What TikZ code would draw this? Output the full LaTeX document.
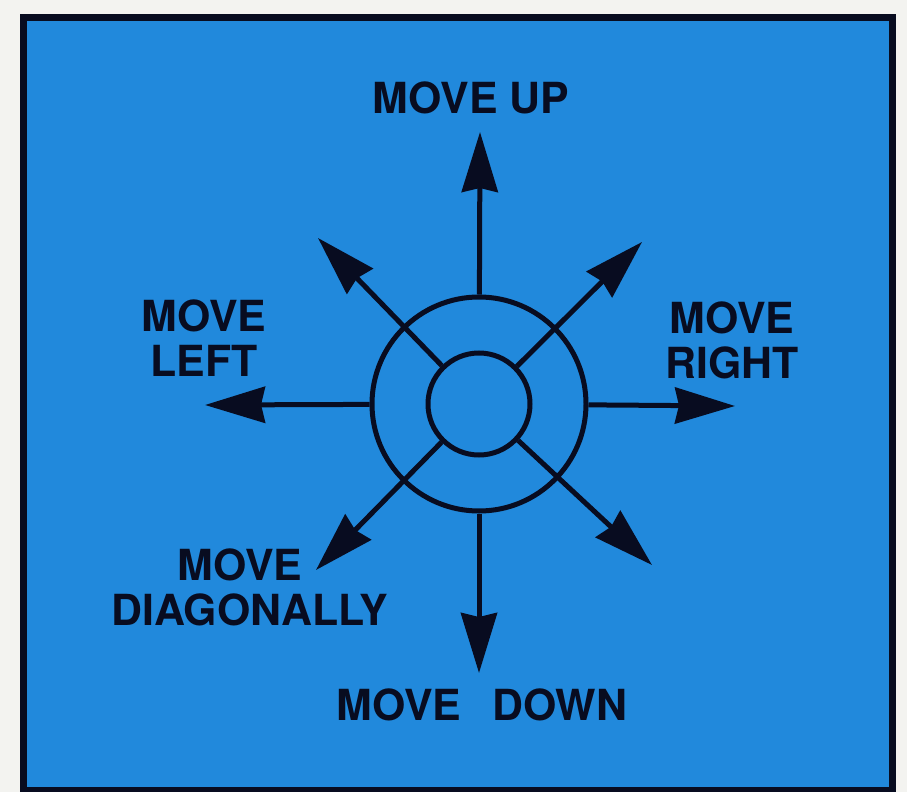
\documentclass[tikz,border=0pt]{standalone}
\usepackage{fontspec}
\setmainfont{TeX Gyre Heros}
\usetikzlibrary{arrows.meta}
\definecolor{panelblue}{RGB}{33,137,220}
\definecolor{ink}{RGB}{8,12,32}
\definecolor{paper}{RGB}{243,243,240}
\begin{document}
\begin{tikzpicture}[x=1bp,y=-1bp,
  lbl/.style={font=\fontsize{43}{45}\selectfont\bfseries, text=ink, inner sep=0pt, align=center},
  ring/.style={circle, draw=ink, line width=5bp, inner sep=0pt},
  arr/.style={draw=ink, line width=5bp, -{Stealth[length=60bp,width=36bp,inset=4bp]}}]
\fill[paper] (0,0) rectangle (907,792);
\useasboundingbox (0,0) rectangle (907,792);
\draw[fill=panelblue, draw=ink, line width=7bp] (23,18) rectangle (892,790);
\node[ring, minimum size=214bp] (outer) at (479,404) {};
\node[ring, minimum size=102bp] (inner) at (479,404) {};
\coordinate (tU) at (480,132);
\coordinate (tD) at (479,673);
\coordinate (tL) at (205,405);
\coordinate (tR) at (735,406);
\coordinate (tUL) at (318,238);
\coordinate (tUR) at (642,242);
\coordinate (tDL) at (316,570);
\coordinate (tDR) at (652,565);
\draw[arr] (outer) -- (tU);
\draw[arr] (outer) -- (tD);
\draw[arr] (outer) -- (tL);
\draw[arr] (outer) -- (tR);
\draw[arr] (inner) -- (tUL);
\draw[arr] (inner) -- (tUR);
\draw[arr] (inner) -- (tDL);
\draw[arr] (inner) -- (tDR);
\node[lbl, anchor=base] (up) at (471,113) {MOVE UP};
\node[lbl] (left) at (204,338.5) {MOVE\\LEFT};
\node[lbl] (right) at (732,340.5) {MOVE\\RIGHT};
\node[lbl] (diag) at (250,587) {MOVE\hspace*{20bp}\\DIAGONALLY};
\node[lbl, anchor=base] (down) at (482,720) {MOVE\hspace{19bp} DOWN};
\end{tikzpicture}
\end{document}
